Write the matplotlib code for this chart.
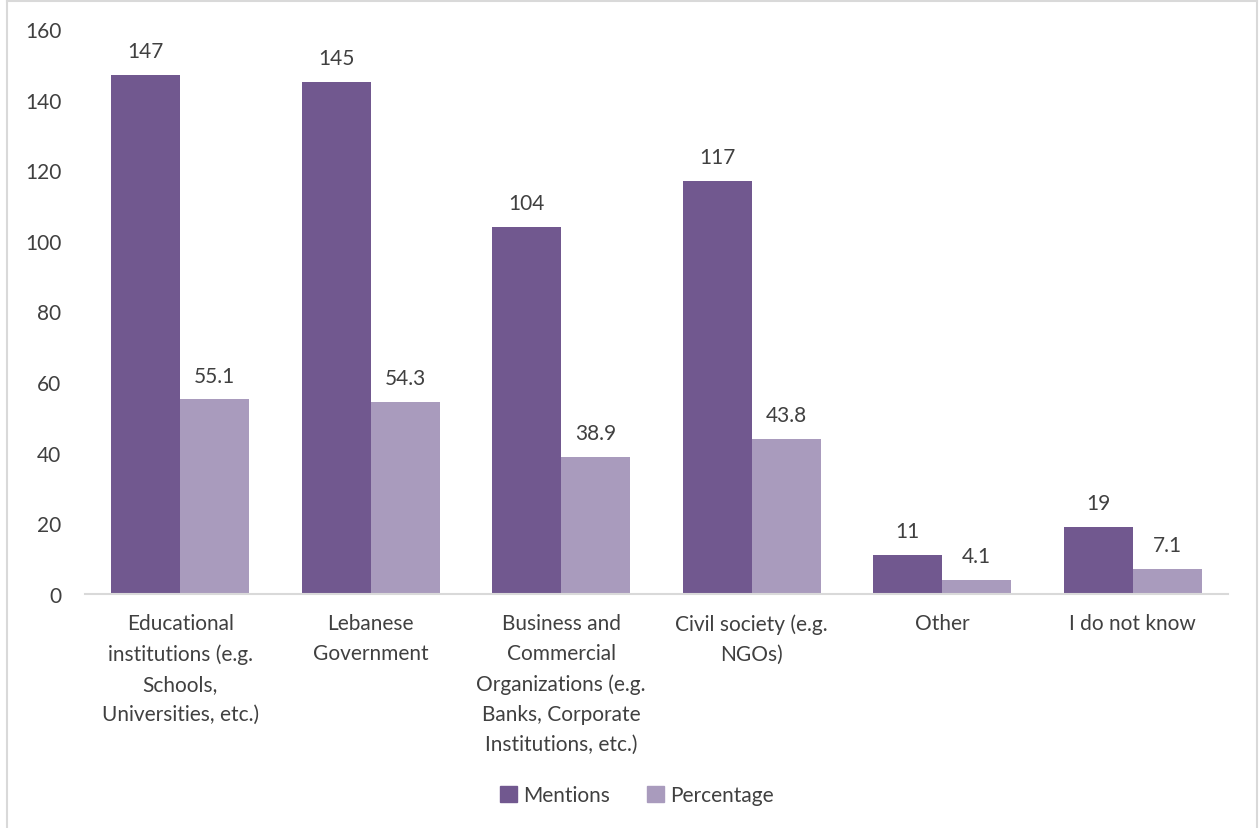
import matplotlib
matplotlib.use("Agg")
import matplotlib.pyplot as plt
from matplotlib.lines import Line2D
from matplotlib.patches import Patch
import numpy as np

categories = [
    "Educational\ninstitutions (e.g.\nSchools,\nUniversities, etc.)",
    "Lebanese\nGovernment",
    "Business and\nCommercial\nOrganizations (e.g.\nBanks, Corporate\nInstitutions, etc.)",
    "Civil society (e.g.\nNGOs)",
    "Other",
    "I do not know",
]
mentions = [147, 145, 104, 117, 11, 19]
percentage = [55.1, 54.3, 38.9, 43.8, 4.1, 7.1]
yticks = [0, 20, 40, 60, 80, 100, 120, 140, 160]

c_m = "#71588F"
c_p = "#A99BBD"
txt = "#404040"
font = ["Lato", "DejaVu Sans"]
fs = 15

plt.rcParams["font.family"] = font
fig = plt.figure(figsize=(12.6, 8.29), dpi=100)
ax = fig.add_axes([85/1260, 1-595/829, (1228-85)/1260, (595-30)/829])

x = np.arange(len(categories))
w = 0.363
ax.bar(x - w/2, mentions, w, color=c_m, label="Mentions")
ax.bar(x + w/2, percentage, w, color=c_p, label="Percentage")

for xi, v in zip(x, mentions):
    ax.annotate(f"{v:g}", (xi - w/2, v), xytext=(0, 10), textcoords="offset points",
                ha="center", va="bottom", fontsize=fs, color=txt)
for xi, v in zip(x, percentage):
    ax.annotate(f"{v:.1f}", (xi + w/2, v), xytext=(0, 10), textcoords="offset points",
                ha="center", va="bottom", fontsize=fs, color=txt)

ax.set_xlim(-0.5, len(categories) - 0.5)
ax.set_ylim(0, 160)
ax.set_yticks(yticks)
ax.set_yticklabels([str(t) for t in yticks], fontsize=fs, color=txt)
ax.set_xticks(x)
ax.set_xticklabels(categories, fontsize=fs, color=txt, linespacing=1.62, va="top")
ax.tick_params(axis="both", length=0)
ax.tick_params(axis="y", pad=17)
ax.tick_params(axis="x", pad=14)
for s in ["top", "right", "left"]:
    ax.spines[s].set_visible(False)
ax.spines["bottom"].set_color("#D9D9D9")
ax.spines["bottom"].set_linewidth(1.5)

handles = [Patch(color=c_m, label="Mentions"), Patch(color=c_p, label="Percentage")]
leg = fig.legend(handles=handles, loc="center", bbox_to_anchor=(637/1260, 1-796/829),
                 ncol=2, frameon=False, fontsize=fs, handlelength=0.8, handleheight=0.8,
                 handletextpad=0.3, columnspacing=1.8)
for t in leg.get_texts():
    t.set_color(txt)

# chart border
bc = "#D9D9D9"
fig.add_artist(Line2D([7/1260, 7/1260], [0, 1-2/829], transform=fig.transFigure, color=bc, lw=1.5))
fig.add_artist(Line2D([1257/1260, 1257/1260], [0, 1-2/829], transform=fig.transFigure, color=bc, lw=1.5))
fig.add_artist(Line2D([7/1260, 1257/1260], [1-2/829, 1-2/829], transform=fig.transFigure, color=bc, lw=1.5))

fig.savefig("out.png", dpi=100)
